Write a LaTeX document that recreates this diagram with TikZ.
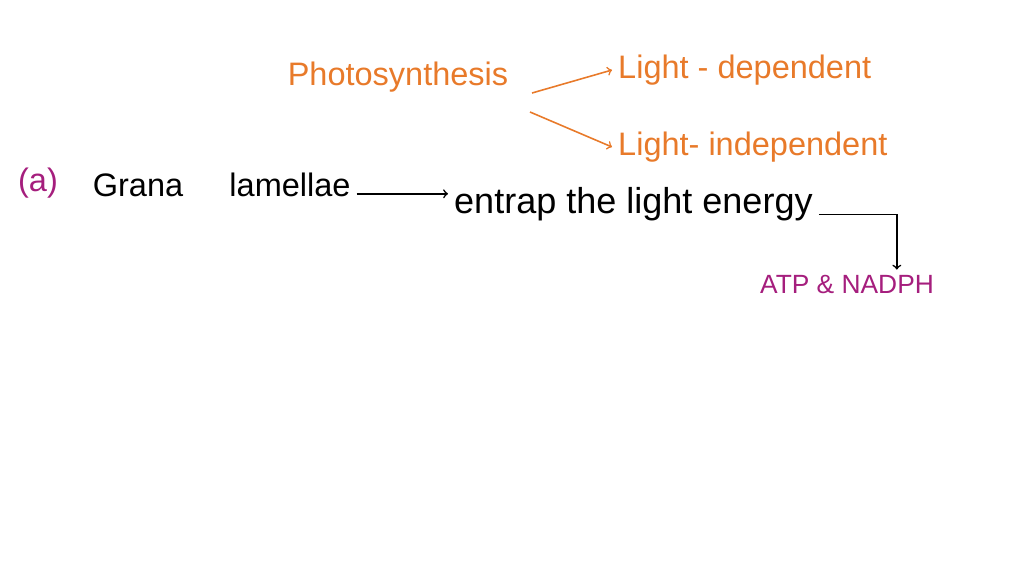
\documentclass[tikz,border=0pt]{standalone}
\usepackage{fontspec}
\setmainfont{Liberation Sans}
\definecolor{org}{RGB}{232,122,42}
\definecolor{pur}{RGB}{165,30,125}
\begin{document}
\begin{tikzpicture}[x=0.02cm,y=-0.02cm,
  txt/.style={font=\fontsize{18.5}{22}\selectfont},
  arr/.style={->,line width=0.9pt}]
\useasboundingbox (0,0) rectangle (1024,576);
\node[txt,text=org] (ph) at (398,77) {Photosynthesis};
\node[txt,text=org,anchor=west] (ld) at (612,70) {Light - dependent};
\node[txt,text=org,anchor=west] (li) at (612,147) {Light- independent};
\draw[arr,org] (532,93) -- (ld.west);
\draw[arr,org] (530,112) -- (li.west);
\node[txt,text=pur] (a) at (38,183) {(a)};
\node[txt] (gr) at (138,185) {Grana};
\node[txt] (la) at (290,185) {lamellae};
\node[txt,anchor=west,font=\fontsize{20.5}{24}\selectfont] (en) at (448,204) {entrap the light energy};
\draw[arr] ([yshift=-5]la.east) -- ([yshift=-5]la.east -| en.west);
\node[text=pur,font=\fontsize{15}{18}\selectfont] (atp) at (847,285) {ATP \& NADPH};
\draw[arr] ([yshift=-6]en.east) -- ++(78,0) coordinate (c) -- (atp.north -| c);
\end{tikzpicture}
\end{document}
